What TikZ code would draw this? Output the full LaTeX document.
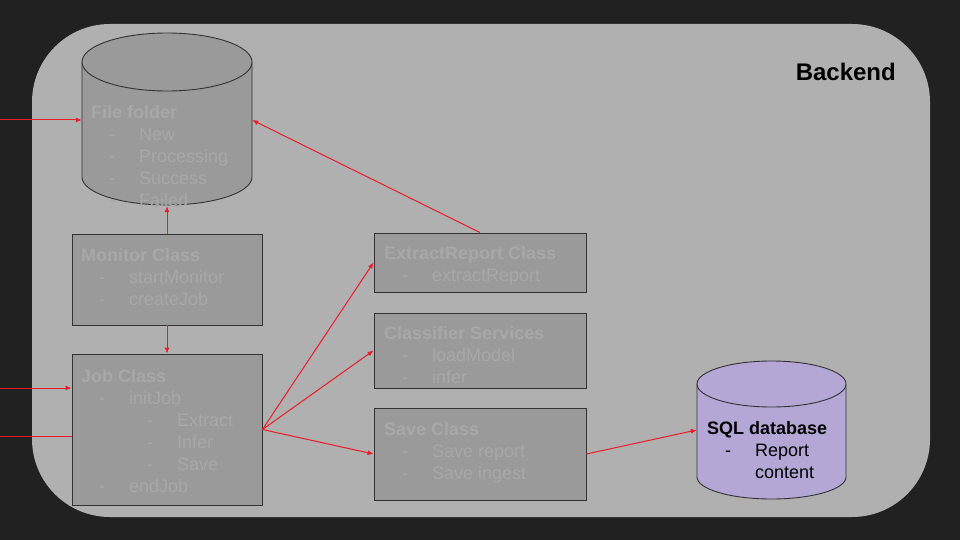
\documentclass[tikz,border=0pt]{standalone}
\usepackage{fontspec}
\setmainfont{Liberation Sans}
\usetikzlibrary{calc,arrows.meta}
\definecolor{bgdark}{HTML}{212121}
\definecolor{panelgray}{HTML}{B0B0B0}
\definecolor{boxgray}{HTML}{9A9A9A}
\definecolor{textgray}{HTML}{A8A8A8}
\definecolor{edgegray}{HTML}{333333}
\definecolor{linkred}{HTML}{EA1C28}
\definecolor{dbpurple}{HTML}{B4A7D6}
\def\itm#1{\hspace*{18pt}\makebox[30pt][l]{-}#1}
\def\subitm#1{\hspace*{66pt}\makebox[30pt][l]{-}#1}
\tikzset{
  classbox/.style={draw=edgegray, fill=boxgray, line width=0.9pt, inner sep=0pt},
  classtext/.style={anchor=base west, inner sep=0pt, text=textgray, font=\fontsize{18pt}{22pt}\selectfont},
  hook/.style={minimum width=#1, inner sep=0pt},
  link/.style={draw=linkred, line width=1pt, -{Latex[length=6pt,width=5pt]}},
  wire/.style={draw=linkred, line width=1pt},
}

\begin{document}
\begin{tikzpicture}[x=1pt,y=-1pt]
			%%%%% START %%%%%
			
			\fill[bgdark] (0,0) rectangle (960,540);
			\useasboundingbox (0,0) rectangle (960,540);
			\fill[panelgray, rounded corners=78pt] (32,24) rectangle (930,517);
			
			\node[anchor=east, inner sep=0pt, font=\fontsize{24pt}{28pt}\selectfont\bfseries] (backend) at (896,72) {Backend};
			
			% file folder
			\fill[boxgray] (82,62) -- (82,177) arc (180:0:85 and 28) -- (252,62) -- cycle;
			\draw[edgegray, line width=0.9pt] (82,62) -- (82,177) arc (180:0:85 and 28) -- (252,62);
			\draw[edgegray, fill=boxgray, line width=0.9pt] (167,62) ellipse (85 and 29);
			\node[hook=170pt, minimum height=172pt] (folder) at (167,120) {};
			\node[classtext] (foldertxt) at (91,118.5) {\begin{tabular}[t]{@{}l@{}}\textbf{File folder}\\ \itm{New}\\ \itm{Processing}\\ \itm{Success}\\ \itm{Failed}\end{tabular}};
			
			% sql database
			\fill[dbpurple] (697,384) -- (697,477) arc (180:0:74.5 and 22) -- (846,384) -- cycle;
			\draw[edgegray, line width=0.9pt] (697,384) -- (697,477) arc (180:0:74.5 and 22) -- (846,384);
			\draw[edgegray, fill=dbpurple, line width=0.9pt] (771.5,384) ellipse (74.5 and 23);
			\node[hook=149pt, minimum height=138pt] (sqldb) at (771.5,430) {};
			\node[classtext, text=black] (sqltxt) at (707,434.5) {\begin{tabular}[t]{@{}l@{}}\textbf{SQL database}\\ \itm{Report}\\ \hspace*{48pt}content\end{tabular}};
			
			% classes
			\node[classbox, minimum width=190pt, minimum height=91pt] (monitor) at (167,279.5) {};
			\node[classtext] (monitortxt) at (81,261.5) {\begin{tabular}[t]{@{}l@{}}\textbf{Monitor Class}\\ \itm{startMonitor}\\ \itm{createJob}\end{tabular}};
			
			\node[classbox, minimum width=190pt, minimum height=151pt] (job) at (167,429.5) {};
			\node[classtext] (jobtxt) at (81,382.5) {\begin{tabular}[t]{@{}l@{}}\textbf{Job Class}\\ \itm{initJob}\\ \subitm{Extract}\\ \subitm{Infer}\\ \subitm{Save}\\ \itm{endJob}\end{tabular}};
			
			\node[classbox, minimum width=212pt, minimum height=59pt] (extract) at (480,262.5) {};
			\node[classtext] (extracttxt) at (384,259.5) {\begin{tabular}[t]{@{}l@{}}\textbf{ExtractReport Class}\\ \itm{extractReport}\end{tabular}};
			
			\node[classbox, minimum width=212pt, minimum height=75pt] (classifier) at (480,350.5) {};
			\node[classtext] (classifiertxt) at (384,339.5) {\begin{tabular}[t]{@{}l@{}}\textbf{Classifier Services}\\ \itm{loadModel}\\ \itm{infer}\end{tabular}};
			
			\node[classbox, minimum width=212pt, minimum height=92pt] (save) at (480,454) {};
			\node[classtext] (savetxt) at (384,435.5) {\begin{tabular}[t]{@{}l@{}}\textbf{Save Class}\\ \itm{Save report}\\ \itm{Save ingest}\end{tabular}};
			
			% connectors
			\coordinate (inFolder) at (0,120);
			\coordinate (inJob) at (0,388);
			\coordinate (inWire) at (0,436);
			
			\draw[link] (inFolder) -- (folder.west);
			\draw[link] (monitor.north) -- (folder.south);
			\draw[link] (monitor.south) -- (job.north);
			\draw[link] (inJob) -- (inJob -| job.west);
			\draw[wire] (inWire) -- (inWire -| job.west);
			
			\draw[link] (job.east) -- (extract.west);
			\draw[link] (job.east) -- (classifier.west);
			\draw[link] (job.east) -- (save.west);
			
			\draw[link] (extract.north) -- (folder.east);
			\draw[link] (save.east) -- (sqldb.west);
			
			%%%%% END %%%%%
\end{tikzpicture}
\end{document}
